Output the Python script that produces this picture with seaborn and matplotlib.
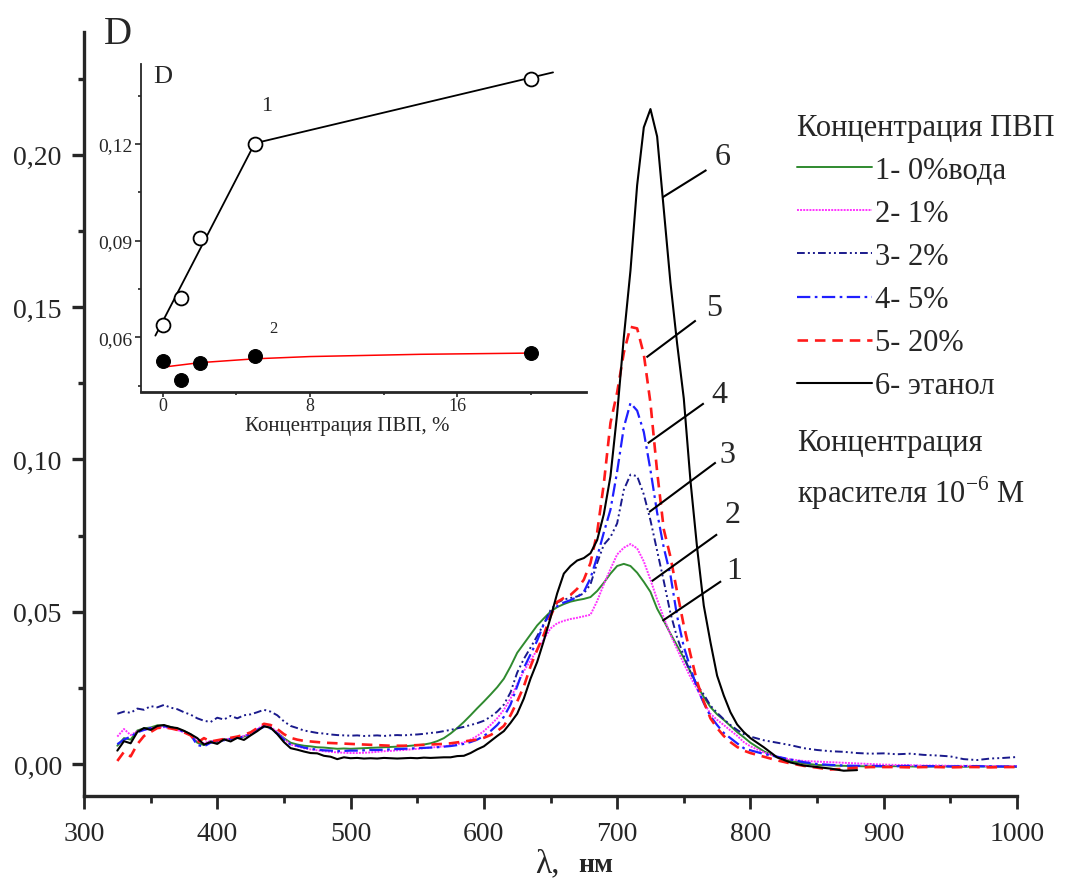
import numpy as np
import pandas as pd
import matplotlib
matplotlib.use("Agg")
import matplotlib.pyplot as plt
from matplotlib.ticker import FixedLocator, FuncFormatter
import seaborn as sns

# ---------------- spectra: optical density vs wavelength ----------------
wavelength = (list(range(325, 801, 5)) + list(range(810, 1001, 10)))
wavelength_ethanol = (list(range(325, 801, 5)) + list(range(810, 881, 10)))

d_water = [
    0.0060, 0.0085, 0.0080, 0.0110, 0.0117, 0.0120, 0.0127, 0.0126, 0.0122, 0.0115, 0.0108, 0.0097,
    0.0070, 0.0062, 0.0075, 0.0072, 0.0080, 0.0083, 0.0086, 0.0090, 0.0098, 0.0112, 0.0125, 0.0118,
    0.0103, 0.0085, 0.0070, 0.0064, 0.0060, 0.0058, 0.0055, 0.0054, 0.0052, 0.0050, 0.0051, 0.0050,
    0.0051, 0.0052, 0.0053, 0.0054, 0.0055, 0.0056, 0.0057, 0.0058, 0.0060, 0.0062, 0.0064, 0.0068,
    0.0075, 0.0085, 0.0100, 0.0118, 0.0138, 0.0160, 0.0183, 0.0205,
    0.0228, 0.0252, 0.0280, 0.0320, 0.0365, 0.0395, 0.0425, 0.0455, 0.0478, 0.0500, 0.0515, 0.0525,
    0.0533, 0.0538, 0.0542, 0.0548, 0.0568, 0.0595, 0.0625, 0.0650, 0.0657, 0.0650, 0.0628, 0.0598,
    0.0565, 0.0510, 0.0470, 0.0428, 0.0388, 0.0348, 0.0303, 0.0258, 0.0220, 0.0187, 0.0163, 0.0145,
    0.0125, 0.0105, 0.0088, 0.0070,
    0.0042, 0.0022, 0.0010, 0.0002, -0.0003, -0.0005, -0.0006, -0.0007, -0.0008, -0.0008,
    -0.0007, -0.0008, -0.0009, -0.0008, -0.0008, -0.0009, -0.0008, -0.0008, -0.0009, -0.0009,
]

d_pvp1 = [
    0.0090, 0.0115, 0.0095, 0.0108, 0.0112, 0.0118, 0.0120, 0.0121, 0.0117, 0.0112, 0.0104, 0.0095,
    0.0078, 0.0068, 0.0076, 0.0074, 0.0080, 0.0084, 0.0085, 0.0092, 0.0100, 0.0115, 0.0128, 0.0122,
    0.0105, 0.0082, 0.0064, 0.0058, 0.0052, 0.0048, 0.0045, 0.0042, 0.0040, 0.0038, 0.0037, 0.0036,
    0.0036, 0.0037, 0.0038, 0.0040, 0.0042, 0.0043, 0.0045, 0.0046, 0.0048, 0.0050, 0.0052, 0.0054,
    0.0056, 0.0058, 0.0061, 0.0065, 0.0071, 0.0080, 0.0092, 0.0108,
    0.0128, 0.0150, 0.0178, 0.0215, 0.0262, 0.0305, 0.0340, 0.0375, 0.0410, 0.0445, 0.0462, 0.0470,
    0.0476, 0.0480, 0.0485, 0.0490, 0.0535, 0.0590, 0.0640, 0.0688, 0.0710, 0.0722, 0.0708, 0.0665,
    0.0605, 0.0540, 0.0480, 0.0425, 0.0377, 0.0330, 0.0285, 0.0246, 0.0202, 0.0165, 0.0145, 0.0128,
    0.0110, 0.0093, 0.0072, 0.0058,
    0.0038, 0.0024, 0.0015, 0.0010, 0.0008, 0.0006, 0.0004, 0.0002, 0.0000, -0.0002,
    -0.0003, -0.0004, -0.0005, -0.0005, -0.0006, -0.0006, -0.0006, -0.0007, -0.0007, -0.0007,
]

d_pvp2 = [
    0.0165, 0.0172, 0.0168, 0.0182, 0.0178, 0.0190, 0.0186, 0.0194, 0.0185, 0.0180, 0.0170, 0.0162,
    0.0150, 0.0142, 0.0138, 0.0152, 0.0146, 0.0158, 0.0150, 0.0160, 0.0163, 0.0170, 0.0178, 0.0172,
    0.0160, 0.0140, 0.0125, 0.0118, 0.0110, 0.0106, 0.0102, 0.0100, 0.0097, 0.0095, 0.0094, 0.0093,
    0.0094, 0.0092, 0.0093, 0.0094, 0.0092, 0.0094, 0.0095, 0.0094, 0.0096, 0.0097, 0.0099, 0.0102,
    0.0104, 0.0108, 0.0112, 0.0117, 0.0122, 0.0128, 0.0134, 0.0142,
    0.0155, 0.0172, 0.0195, 0.0235, 0.0300, 0.0345, 0.0382, 0.0420, 0.0460, 0.0505, 0.0530, 0.0540,
    0.0545, 0.0550, 0.0560, 0.0590, 0.0660, 0.0720, 0.0745, 0.0790, 0.0900, 0.0950, 0.0945, 0.0885,
    0.0800, 0.0700, 0.0600, 0.0495, 0.0415, 0.0355, 0.0300, 0.0260, 0.0228, 0.0192, 0.0168, 0.0147,
    0.0128, 0.0112, 0.0098, 0.0090,
    0.0078, 0.0070, 0.0062, 0.0052, 0.0046, 0.0042, 0.0040, 0.0036, 0.0034, 0.0035,
    0.0032, 0.0034, 0.0030, 0.0028, 0.0025, 0.0016, 0.0013, 0.0018, 0.0020, 0.0023,
]

d_pvp5 = [
    0.0065, 0.0080, 0.0090, 0.0104, 0.0112, 0.0118, 0.0122, 0.0124, 0.0120, 0.0114, 0.0106, 0.0096,
    0.0062, 0.0058, 0.0070, 0.0076, 0.0078, 0.0082, 0.0086, 0.0090, 0.0098, 0.0112, 0.0122, 0.0117,
    0.0100, 0.0080, 0.0064, 0.0060, 0.0054, 0.0050, 0.0047, 0.0045, 0.0044, 0.0042, 0.0043, 0.0044,
    0.0044, 0.0045, 0.0046, 0.0046, 0.0047, 0.0048, 0.0049, 0.0050, 0.0051, 0.0052, 0.0053, 0.0054,
    0.0055, 0.0057, 0.0059, 0.0062, 0.0066, 0.0072, 0.0080, 0.0092,
    0.0108, 0.0128, 0.0155, 0.0195, 0.0255, 0.0315, 0.0360, 0.0405, 0.0460, 0.0495, 0.0518, 0.0530,
    0.0538, 0.0548, 0.0565, 0.0610, 0.0680, 0.0760, 0.0835, 0.0960, 0.1105, 0.1185, 0.1160, 0.1090,
    0.0965, 0.0825, 0.0710, 0.0620, 0.0485, 0.0385, 0.0315, 0.0250, 0.0200, 0.0157, 0.0128, 0.0102,
    0.0085, 0.0068, 0.0052, 0.0045,
    0.0033, 0.0024, 0.0015, 0.0006, 0.0000, -0.0003, -0.0005, -0.0006, -0.0006, -0.0007,
    -0.0007, -0.0006, -0.0007, -0.0007, -0.0008, -0.0007, -0.0007, -0.0008, -0.0008, -0.0008,
]

d_pvp20 = [
    0.0010, 0.0040, 0.0025, 0.0065, 0.0092, 0.0105, 0.0118, 0.0120, 0.0117, 0.0112, 0.0104, 0.0094,
    0.0070, 0.0085, 0.0074, 0.0078, 0.0082, 0.0086, 0.0090, 0.0096, 0.0104, 0.0118, 0.0132, 0.0128,
    0.0115, 0.0098, 0.0086, 0.0080, 0.0076, 0.0074, 0.0072, 0.0070, 0.0069, 0.0068, 0.0067, 0.0066,
    0.0065, 0.0064, 0.0063, 0.0062, 0.0061, 0.0060, 0.0060, 0.0060, 0.0061, 0.0062, 0.0063, 0.0064,
    0.0065, 0.0066, 0.0068, 0.0071, 0.0074, 0.0077, 0.0080, 0.0086,
    0.0095, 0.0108, 0.0125, 0.0160, 0.0205, 0.0255, 0.0320, 0.0375, 0.0425, 0.0485, 0.0532, 0.0545,
    0.0555, 0.0575, 0.0605, 0.0660, 0.0760, 0.0920, 0.1120, 0.1220, 0.1350, 0.1435, 0.1430, 0.1345,
    0.1185, 0.0960, 0.0770, 0.0680, 0.0565, 0.0455, 0.0360, 0.0270, 0.0205, 0.0150, 0.0118, 0.0092,
    0.0072, 0.0056, 0.0044, 0.0036,
    0.0024, 0.0012, 0.0002, -0.0006, -0.0012, -0.0018, -0.0016, -0.0012, -0.0010, -0.0010,
    -0.0010, -0.0011, -0.0010, -0.0010, -0.0011, -0.0010, -0.0010, -0.0011, -0.0010, -0.0010,
]

d_ethanol = [
    0.0044, 0.0075, 0.0068, 0.0105, 0.0118, 0.0112, 0.0125, 0.0128, 0.0121, 0.0118, 0.0109, 0.0098,
    0.0085, 0.0064, 0.0072, 0.0066, 0.0081, 0.0074, 0.0086, 0.0079, 0.0094, 0.0108, 0.0124, 0.0119,
    0.0098, 0.0072, 0.0052, 0.0047, 0.0041, 0.0036, 0.0035, 0.0027, 0.0024, 0.0016, 0.0022, 0.0019,
    0.0020, 0.0018, 0.0019, 0.0018, 0.0020, 0.0019, 0.0018, 0.0019, 0.0020, 0.0019, 0.0021, 0.0020,
    0.0021, 0.0022, 0.0022, 0.0026, 0.0027, 0.0036, 0.0048, 0.0058,
    0.0075, 0.0092, 0.0108, 0.0135, 0.0165, 0.0215, 0.0280, 0.0335, 0.0405, 0.0480, 0.0560, 0.0625,
    0.0650, 0.0668, 0.0676, 0.0692, 0.0735, 0.0820, 0.0945, 0.1150, 0.1400, 0.1620, 0.1900, 0.2090,
    0.2150, 0.2060, 0.1820, 0.1580, 0.1380, 0.1200, 0.0930, 0.0710, 0.0520, 0.0400, 0.0290, 0.0225,
    0.0170, 0.0130, 0.0105, 0.0085,
    0.0055, 0.0022, 0.0005, -0.0005, -0.0010, -0.0015, -0.0022, -0.0020,
]

series_labels = ["1- 0%вода", "2- 1%", "3- 2%", "4- 5%", "5- 20%", "6- этанол"]
series_colors = ["#2f8a2f", "#ff33ff", "#1a1a8c", "#1f1fff", "#ff1a1a", "#000000"]
series_styles = ["-", (0, (1, 0.6)), (0, (4, 1.6, 1, 1.6, 1, 1.6)), (0, (6, 2, 1.2, 2)),
                 (0, (4, 2.6)), "-"]
series_widths = [1.4, 1.4, 1.4, 1.6, 1.9, 1.5]

# leader lines and curve numbers
leader_start_x = [734, 726, 724, 723, 722, 734]
leader_start_y = [0.047, 0.060, 0.0827, 0.1053, 0.1335, 0.186]
leader_end_x = [778, 775, 774, 765, 759, 767]
leader_end_y = [0.060, 0.0754, 0.099, 0.1184, 0.1456, 0.195]
number_x = [788, 787, 783, 777, 773, 779]
number_y = [0.0635, 0.082, 0.1017, 0.1214, 0.150, 0.1995]

# ---------------- inset: peak density vs PVP concentration ----------------
pvp_conc = [0, 1, 2, 5, 20]
d_open = [0.0639, 0.0721, 0.0908, 0.1200, 0.1400]
d_filled = [0.0527, 0.0468, 0.0520, 0.0541, 0.0551]
fit_open_x = [-0.4, 5.0, 21.2]
fit_open_y = [0.0605, 0.1202, 0.1422]
fit_filled_x = [0.0, 2.0, 5.0, 8.0, 14.0, 20.3]
fit_filled_y = [0.0507, 0.0521, 0.0533, 0.0540, 0.0547, 0.0551]

# ---------------- style ----------------
sns.set_style("ticks")
plt.rcParams["font.family"] = ["Liberation Serif", "DejaVu Serif"]
plt.rcParams["mathtext.fontset"] = "custom"
plt.rcParams["mathtext.rm"] = "Liberation Serif"
plt.rcParams["axes.unicode_minus"] = False

fig = plt.figure(figsize=(10.65, 8.79), dpi=100)
fig.patch.set_facecolor("white")

ax = fig.add_axes([84 / 1065, 1 - 797 / 879, (1017 - 84) / 1065, (797 - 33) / 879])
ax.set_facecolor("white")

series = [d_water, d_pvp1, d_pvp2, d_pvp5, d_pvp20, d_ethanol]
for i, vals in enumerate(series):
    wl = wavelength_ethanol if i == 5 else wavelength
    df = pd.DataFrame({"wl": wl, "D": vals})
    sns.lineplot(data=df, x="wl", y="D", ax=ax, color=series_colors[i],
                 linestyle=series_styles[i], linewidth=series_widths[i],
                 label=series_labels[i], sort=False, estimator=None)

for i in range(6):
    ax.plot([leader_start_x[i], leader_end_x[i]], [leader_start_y[i], leader_end_y[i]],
            color="black", lw=1.5, solid_capstyle="butt")
    ax.text(number_x[i], number_y[i], str(i + 1), fontsize=23, ha="center", va="center")

ax.set_xlim(300, 1000)
ax.set_ylim(-0.0105, 0.2403)
ax.xaxis.set_major_locator(FixedLocator(list(range(300, 1001, 100))))
ax.xaxis.set_minor_locator(FixedLocator(list(range(350, 1000, 100))))
ax.yaxis.set_major_locator(FixedLocator([0.0, 0.05, 0.10, 0.15, 0.20]))
ax.yaxis.set_minor_locator(FixedLocator([0.025, 0.075, 0.125, 0.175, 0.225]))
ax.yaxis.set_major_formatter(FuncFormatter(lambda v, p: f"{v:.2f}".replace(".", ",")))
ax.set_xlabel("")
ax.set_ylabel("")
for s in ["top", "right"]:
    ax.spines[s].set_visible(False)
for s in ["left", "bottom"]:
    ax.spines[s].set_linewidth(2.4)
ax.tick_params(axis="x", which="major", direction="out", length=9, width=2.0,
               labelsize=20, pad=9)
ax.tick_params(axis="x", which="minor", direction="out", length=5, width=2.0)
ax.tick_params(axis="y", which="major", direction="out", length=9, width=2.4,
               labelsize=20, pad=7)
ax.tick_params(axis="y", which="minor", direction="out", length=4, width=2.4)

leg = ax.legend(title="Концентрация ПВП", loc="upper left",
                bbox_to_anchor=(797 / 1065, 1 - 114 / 879), bbox_transform=fig.transFigure,
                frameon=False, fontsize=22, title_fontsize=22, handlelength=2.45,
                handletextpad=0.1, labelspacing=0.46, borderpad=0, borderaxespad=0,
                alignment="left")

fig.text(797 / 1065, 1 - 444 / 879, "Концентрация", fontsize=22, ha="left", va="center")
fig.text(797 / 1065, 1 - 493 / 879, r"красителя 10$^{\mathregular{-6}}$ М", fontsize=22,
         ha="left", va="center")

fig.text(118 / 1065, 1 - 35 / 879, "D", fontsize=28, ha="center", va="center")
fig.text(547 / 1065, 1 - 864 / 879, "λ,", fontsize=24, ha="center", va="center")
fig.text(596 / 1065, 1 - 866 / 879, "нм", fontsize=20, fontweight="bold",
         ha="center", va="center")

# ---------------- inset ----------------
axi = fig.add_axes([141 / 1065, 1 - 393 / 879, (586 - 141) / 1065, (393 - 65) / 879])
axi.set_facecolor("white")
axi.patch.set_alpha(0.0)
sns.lineplot(x=fit_open_x, y=fit_open_y, ax=axi, color="black", lw=1.3,
             sort=False, estimator=None)
sns.lineplot(x=fit_filled_x, y=fit_filled_y, ax=axi, color="#ff0000", lw=1.1,
             sort=False, estimator=None)
sns.lineplot(x=pvp_conc, y=d_open, ax=axi, linestyle="none", marker="o",
             markersize=10, markerfacecolor="white", markeredgecolor="black",
             markeredgewidth=1.3, estimator=None, sort=False)
sns.lineplot(x=pvp_conc, y=d_filled, ax=axi, linestyle="none", marker="o",
             markersize=10, markerfacecolor="black", markeredgecolor="black",
             estimator=None, sort=False)

axi.set_xlim(-1.18, 22.99)
axi.set_ylim(0.0430, 0.1448)
axi.xaxis.set_major_locator(FixedLocator([0, 8, 16]))
axi.xaxis.set_minor_locator(FixedLocator([4, 12, 20]))
axi.yaxis.set_major_locator(FixedLocator([0.06, 0.09, 0.12]))
axi.yaxis.set_minor_locator(FixedLocator([0.045, 0.075, 0.105, 0.135]))
axi.yaxis.set_major_formatter(FuncFormatter(lambda v, p: f"{v:.2f}".replace(".", ",")))
for s in ["top", "right"]:
    axi.spines[s].set_visible(False)
axi.spines["left"].set_linewidth(1.3)
axi.spines["bottom"].set_linewidth(2.0)
axi.tick_params(axis="y", which="major", direction="out", length=4, width=1.2,
                labelsize=14, pad=2)
axi.tick_params(axis="x", which="major", direction="out", length=3.5, width=1.2,
                labelsize=13, pad=0)
axi.tick_params(axis="both", which="minor", direction="out", length=2.5, width=1.2)
axi.set_xlabel("")
axi.set_ylabel("")
fig.text(347 / 1065, 1 - 427 / 879, "Концентрация ПВП, %", fontsize=15,
         ha="center", va="center")
axi.text(0.0, 0.1411, "D", fontsize=19, ha="center", va="center")
axi.text(5.67, 0.1318, "1", fontsize=16, ha="center", va="center")
axi.text(6.0, 0.0629, "2", fontsize=12, ha="center", va="center")

fig.savefig("out.png", dpi=100, facecolor="white")
